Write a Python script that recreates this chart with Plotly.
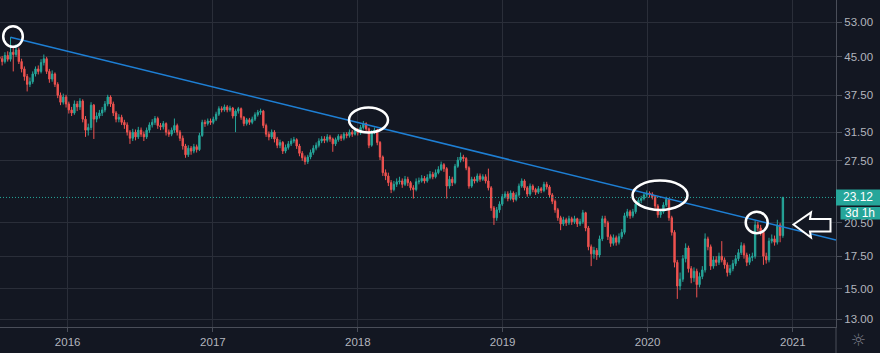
import math
import pandas as pd
import plotly.graph_objects as go

# ---------------- data (weekly candles, last bar 2020-12-07) ----------------
last_bar = "2020-12-07"
first_open = 45.0
closes = [
    44.6, 44.0, 45.3, 44.5, 46.0, 45.5, 46.5, 44.0, 42.5, 41.0,
    39.5, 40.0, 41.5, 42.5, 42.0, 43.8, 44.6, 42.0, 40.5, 41.5,
    39.5, 37.5, 36.3, 37.2, 36.0, 35.0, 34.5, 36.0, 35.5, 36.5,
    33.5, 31.8, 32.2, 35.8, 33.5, 34.0, 34.5, 35.0, 36.0, 37.2,
    36.0, 34.5, 33.5, 33.8, 33.0, 32.6, 31.5, 30.6, 31.5, 30.8,
    31.8, 31.2, 30.8, 31.8, 32.6, 33.0, 33.6, 32.5, 32.3, 32.8,
    31.5, 31.2, 31.8, 32.5, 31.5, 30.6, 29.5, 28.3, 29.2, 28.8,
    29.4, 29.0, 31.0, 33.0, 32.8, 33.2, 33.0, 33.5, 34.3, 35.2,
    35.0, 35.5, 35.0, 35.3, 34.0, 34.8, 35.2, 33.8, 32.8, 33.4,
    33.0, 33.5, 34.2, 34.6, 34.8, 32.5, 31.2, 30.8, 31.5, 30.5,
    29.6, 30.0, 28.8, 29.3, 29.8, 30.2, 30.4, 29.5, 28.5, 27.9,
    27.4, 28.0, 28.6, 29.2, 29.6, 30.2, 30.5, 30.3, 30.8, 30.5,
    29.8, 30.4, 30.9, 30.6, 31.2, 31.0, 31.5, 31.2, 31.8, 31.4,
    32.2, 32.8, 32.0, 29.6, 31.5, 31.8, 30.0, 28.0, 26.0, 25.6,
    24.8, 24.0, 24.6, 24.9, 25.0, 24.6, 25.2, 24.8, 24.2, 24.0,
    24.9, 25.0, 25.3, 25.0, 25.4, 25.8, 25.5, 26.0, 26.4, 27.0,
    26.5, 24.4, 25.2, 24.8, 26.8, 27.6, 28.0, 27.8, 26.6, 24.4,
    25.2, 25.0, 25.6, 25.2, 25.5, 25.0, 24.2, 22.0, 21.0, 21.8,
    22.4, 23.2, 23.5, 23.0, 23.6, 22.9, 23.4, 24.4, 25.0, 24.2,
    23.5, 24.4, 24.0, 23.7, 24.1, 23.9, 24.6, 24.3, 23.4, 22.7,
    21.8, 21.0, 20.4, 20.8, 20.5, 20.9, 20.6, 20.9, 20.4, 20.6,
    21.5, 20.0, 18.3, 17.7, 18.0, 17.6, 19.0, 20.9, 20.5, 19.2,
    18.6, 19.1, 18.7, 19.2, 19.6, 21.2, 21.6, 21.2, 21.6, 22.4,
    22.8, 23.0, 23.4, 23.6, 23.5, 23.2, 22.2, 21.3, 21.6, 22.3,
    22.9, 21.0, 19.6, 17.0, 15.2, 15.7, 17.3, 18.2, 16.5, 15.8,
    16.3, 15.3, 15.9, 16.4, 19.0, 18.3, 16.7, 17.2, 17.0, 17.5,
    17.2, 16.8, 16.2, 16.5, 16.9, 17.3, 17.8, 18.4, 17.6, 17.0,
    17.4, 17.5, 20.3, 20.0, 19.6, 17.5, 17.2, 18.8, 19.0, 18.7,
    20.3, 19.3, 23.12,
]
highs = [
    45.8, 45.2, 46.0, 46.2, 49.4, 47.0, 47.8, 47.0, 44.6, 43.0,
    41.5, 40.8, 42.0, 43.0, 43.2, 44.5, 45.5, 45.0, 42.5, 42.2,
    41.8, 39.9, 38.0, 37.8, 37.6, 36.4, 35.5, 36.6, 36.5, 37.0,
    36.8, 34.0, 32.8, 36.3, 36.0, 34.6, 35.0, 35.5, 36.5, 37.6,
    37.5, 36.4, 34.8, 34.3, 34.2, 33.4, 33.0, 31.8, 32.0, 31.9,
    32.3, 32.2, 31.6, 32.2, 33.0, 33.5, 34.0, 33.9, 32.9, 33.2,
    33.0, 31.9, 32.2, 33.6, 32.8, 31.8, 31.0, 29.8, 29.6, 29.5,
    29.8, 29.7, 31.4, 33.4, 33.4, 33.6, 33.6, 33.9, 34.7, 35.6,
    35.6, 35.9, 35.8, 35.7, 35.5, 35.1, 35.5, 35.4, 34.0, 33.7,
    33.7, 33.9, 34.6, 35.0, 35.2, 35.0, 32.8, 31.6, 31.9, 31.8,
    30.8, 30.4, 30.2, 29.7, 30.2, 30.6, 30.8, 30.6, 29.8, 28.8,
    28.2, 28.3, 29.0, 29.6, 30.0, 30.6, 30.9, 30.9, 31.2, 31.1,
    30.7, 30.7, 31.2, 31.2, 31.5, 31.5, 31.9, 31.8, 32.2, 32.1,
    32.6, 33.2, 33.0, 32.2, 31.8, 32.2, 32.0, 30.2, 28.2, 26.4,
    26.0, 25.1, 25.0, 25.3, 25.5, 25.3, 25.6, 25.5, 25.0, 24.5,
    25.3, 25.4, 25.7, 25.6, 25.8, 26.2, 26.1, 26.4, 26.8, 27.4,
    27.2, 26.7, 25.6, 25.5, 27.1, 28.0, 28.6, 28.3, 28.0, 26.8,
    25.5, 25.5, 25.9, 25.9, 25.8, 25.8, 26.5, 24.4, 22.2, 22.1,
    22.7, 23.5, 23.8, 23.8, 23.9, 23.8, 23.7, 24.7, 25.3, 25.2,
    24.4, 24.7, 24.6, 24.2, 24.4, 24.3, 24.9, 24.9, 24.5, 23.6,
    22.9, 22.0, 21.2, 21.1, 21.0, 21.2, 21.1, 21.2, 21.0, 20.9,
    21.8, 21.6, 20.2, 18.5, 18.3, 18.2, 19.3, 21.2, 21.2, 20.7,
    19.4, 19.4, 19.3, 19.5, 19.9, 21.5, 21.9, 21.8, 21.9, 22.7,
    23.1, 23.3, 23.7, 23.9, 23.8, 23.7, 23.4, 22.4, 21.9, 22.6,
    23.2, 23.0, 21.2, 19.8, 17.2, 16.2, 17.6, 18.6, 18.4, 16.7,
    16.6, 16.5, 16.2, 16.7, 19.5, 19.2, 18.5, 17.5, 17.5, 17.8,
    18.8, 17.4, 17.0, 16.8, 17.2, 17.6, 18.1, 18.7, 18.6, 17.8,
    17.7, 17.8, 20.7, 20.6, 20.3, 19.8, 17.8, 19.1, 19.4, 19.3,
    20.8, 20.5, 23.2,
]
lows = [
    43.9, 43.2, 43.6, 44.0, 44.0, 42.0, 45.0, 43.5, 41.8, 40.2,
    38.2, 39.0, 39.6, 41.0, 41.4, 41.6, 43.2, 41.5, 39.8, 40.0,
    39.0, 37.0, 35.8, 35.9, 35.4, 34.4, 34.0, 34.2, 34.8, 35.0,
    33.0, 30.8, 31.0, 31.8, 30.5, 33.0, 33.6, 34.0, 34.6, 35.6,
    35.5, 34.0, 33.0, 33.0, 32.6, 32.0, 31.0, 29.8, 30.2, 30.3,
    30.5, 30.8, 30.2, 30.5, 31.4, 32.2, 32.6, 32.0, 31.8, 31.9,
    31.0, 30.8, 30.9, 31.4, 31.0, 30.2, 29.0, 27.9, 28.0, 28.3,
    28.5, 28.6, 28.8, 30.8, 32.3, 32.5, 32.6, 32.7, 33.2, 34.0,
    34.6, 34.7, 34.6, 34.7, 33.6, 31.5, 34.4, 33.4, 32.4, 32.5,
    32.6, 32.7, 33.2, 33.9, 34.2, 32.1, 30.8, 30.3, 30.5, 30.0,
    29.2, 29.2, 28.4, 28.5, 29.0, 29.5, 29.9, 29.1, 28.1, 27.5,
    27.0, 27.1, 27.7, 28.3, 28.9, 29.3, 29.9, 29.9, 30.0, 30.1,
    28.7, 29.5, 30.1, 30.2, 30.3, 30.6, 30.7, 30.8, 31.0, 31.0,
    31.1, 31.9, 31.6, 29.2, 29.4, 31.2, 29.6, 27.6, 25.6, 25.1,
    24.4, 23.6, 23.8, 24.3, 24.6, 24.2, 24.4, 24.4, 23.9, 23.0,
    23.8, 24.6, 24.8, 24.7, 24.8, 25.2, 25.2, 25.3, 25.8, 26.2,
    26.1, 23.0, 24.1, 24.4, 24.6, 26.6, 27.3, 27.4, 26.3, 24.1,
    24.2, 24.7, 24.8, 24.9, 25.0, 24.7, 23.9, 21.7, 20.3, 20.7,
    21.5, 22.2, 23.0, 22.7, 22.8, 22.6, 22.7, 23.2, 24.2, 23.9,
    23.2, 23.3, 23.7, 23.4, 23.5, 23.6, 23.7, 24.0, 23.1, 22.4,
    21.5, 20.7, 19.8, 20.2, 20.2, 20.3, 20.3, 20.4, 20.1, 20.2,
    20.4, 19.7, 18.0, 16.7, 17.3, 17.2, 17.4, 18.8, 20.1, 18.9,
    18.3, 18.4, 18.4, 18.5, 19.0, 19.4, 21.0, 20.9, 21.0, 21.4,
    22.2, 22.5, 22.8, 23.1, 23.1, 22.9, 21.9, 21.0, 21.0, 21.4,
    22.1, 20.7, 19.3, 16.6, 14.3, 14.9, 15.5, 17.0, 16.2, 15.4,
    15.5, 14.4, 15.1, 15.7, 16.2, 18.0, 16.4, 16.5, 16.7, 16.8,
    17.0, 16.5, 15.9, 16.0, 16.3, 16.7, 17.1, 17.6, 17.3, 16.7,
    16.8, 17.1, 17.3, 19.7, 19.3, 16.8, 16.9, 17.0, 18.6, 18.4,
    18.5, 18.7, 19.1,
]
opens = [first_open] + closes[:-1]
dates = pd.date_range(end=last_bar, periods=len(closes), freq="7D")

year_ticks = ["2016-01-01", "2017-01-01", "2018-01-01", "2019-01-01", "2020-01-01", "2021-01-01"]
year_labels = ["2016", "2017", "2018", "2019", "2020", "2021"]
price_ticks = [13, 15, 17.5, 20.5, 27.5, 31.5, 37.5, 45, 53]
price_labels = ["13.00", "15.00", "17.50", "20.50", "27.50", "31.50", "37.50", "45.00", "53.00"]

trend_dates = ["2015-08-10", "2021-04-19 19:00"]
trend_prices = [49.4, 18.9]

last_price = closes[-1]
countdown = "3d 1h"

# ---------------- styling ----------------
BG = "#131722"
GRID = "#2a2e39"
AXLINE = "#4a4e59"
TXT = "#b2b5be"
UP = "#26a69a"
DOWN = "#ef5350"
FONT = "Liberation Sans"

x_range = ["2015-07-14 14:00", "2021-04-19 19:00"]
y_range = [1.09749, 1.77015]
W, H = 880, 353
ML, MR, MT, MB = 0, 44, 0, 26
PW, PH = W - ML - MR, H - MT - MB


def px(xp):
    return (xp - ML) / PW


def py(yp):
    return 1 - (yp - MT) / PH


def ppaper(price):
    return (math.log10(price) - y_range[0]) / (y_range[1] - y_range[0])


fig = go.Figure()
fig.add_trace(go.Candlestick(
    x=dates, open=opens, high=highs, low=lows, close=closes,
    increasing=dict(line=dict(color=UP, width=1), fillcolor=UP),
    decreasing=dict(line=dict(color=DOWN, width=1), fillcolor=DOWN),
    whiskerwidth=0, hoverinfo="skip", showlegend=False,
))
fig.add_trace(go.Scatter(
    x=x_range, y=[last_price, last_price], mode="lines",
    line=dict(color=UP, width=1, dash="1px,2px"), hoverinfo="skip", showlegend=False,
))
fig.add_trace(go.Scatter(
    x=trend_dates, y=trend_prices, mode="lines",
    line=dict(color="#1e7fd4", width=1.5), hoverinfo="skip", showlegend=False,
))

shapes = []
# ellipses highlighting touches
for cx, cy, rx, ry in [(13, 36.5, 9.8, 10.3), (368.5, 120, 19.5, 12.5),
                       (660, 195.3, 27.5, 14.7), (756.7, 222.5, 11, 10.8)]:
    shapes.append(dict(type="circle", xref="paper", yref="paper",
                       x0=px(cx - rx), x1=px(cx + rx), y0=py(cy + ry), y1=py(cy - ry),
                       line=dict(color="white", width=2.5), layer="above"))
# arrow pointing left
pts = [(793.5, 224.5), (811, 212.5), (810, 219), (830.5, 219), (830.5, 231.5), (810, 231.5), (811, 237.5)]
path = "M " + " L ".join(f"{px(a):.5f},{py(b):.5f}" for a, b in pts) + " Z"
shapes.append(dict(type="path", xref="paper", yref="paper", path=path,
                   line=dict(color="white", width=2), fillcolor=BG, layer="above"))
# price label boxes
yl = ppaper(last_price)
shapes.append(dict(type="rect", xref="paper", yref="paper",
                   x0=px(836), x1=px(880), y0=yl - 8 / PH, y1=yl + 8 / PH,
                   fillcolor=UP, line=dict(width=0), layer="above"))
shapes.append(dict(type="rect", xref="paper", yref="paper",
                   x0=px(840.5), x1=px(880), y0=yl - 22 / PH, y1=yl - 9.5 / PH,
                   fillcolor=UP, line=dict(width=0), layer="above"))
# vertical separator continuing into the time-axis area
shapes.append(dict(type="line", xref="paper", yref="paper", x0=1, x1=1, y0=0, y1=py(H),
                   line=dict(color=AXLINE, width=1), layer="above"))

annotations = [
    dict(xref="paper", yref="paper", x=px(858), y=yl, text=f"{last_price:.2f}",
         showarrow=False, font=dict(family=FONT, size=12, color="white"), xanchor="center", yanchor="middle"),
    dict(xref="paper", yref="paper", x=px(860), y=yl - 15.75 / PH, text=countdown,
         showarrow=False, font=dict(family=FONT, size=12, color="white"), xanchor="center", yanchor="middle"),
    dict(xref="paper", yref="paper", x=px(858), y=py(340), text="☼",
         showarrow=False, font=dict(family="DejaVu Sans", size=17, color="#787b86"), xanchor="center", yanchor="middle"),
]

fig.update_layout(
    width=W, height=H, margin=dict(l=ML, r=MR, t=MT, b=MB),
    paper_bgcolor=BG, plot_bgcolor=BG, showlegend=False,
    shapes=shapes, annotations=annotations,
    xaxis=dict(type="date", range=x_range, rangeslider=dict(visible=False),
               tickvals=year_ticks, ticktext=year_labels, showgrid=True, gridcolor=GRID, gridwidth=1,
               ticks="outside", ticklen=4, tickcolor=AXLINE, showline=True, linecolor=AXLINE,
               tickfont=dict(family=FONT, size=11.5, color=TXT), zeroline=False, fixedrange=True),
    yaxis=dict(type="log", side="right", range=y_range, tickvals=price_ticks, ticktext=price_labels,
               showgrid=True, gridcolor=GRID, gridwidth=1, ticks="outside", ticklen=5, tickcolor=AXLINE,
               showline=True, linecolor=AXLINE, tickfont=dict(family=FONT, size=11.5, color=TXT),
               zeroline=False, fixedrange=True),
    hovermode=False,
)

fig.write_html("out.html")
